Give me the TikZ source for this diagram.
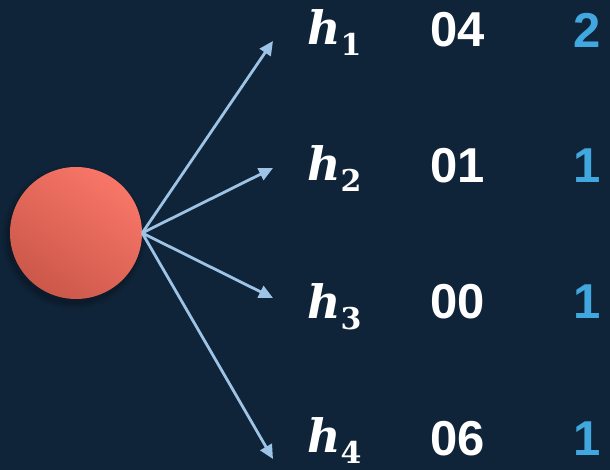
\documentclass[tikz,border=0pt]{standalone}
\usepackage{fontspec}
\setmainfont{Liberation Sans}
\newfontfamily\hfont{DejaVu Serif}
\usetikzlibrary{arrows.meta}
\definecolor{bg}{HTML}{0F2439}
\definecolor{arrowc}{HTML}{9DC3E6}
\definecolor{cntc}{HTML}{41A8DF}
\definecolor{ballhi}{HTML}{F87668}
\definecolor{balllo}{HTML}{CB584A}
\newcommand{\hsub}[1]{\raisebox{-11pt}{\fontsize{30}{36}\selectfont\bfseries\upshape #1}}
\tikzset{
  ball/.style={circle, minimum size=132pt, inner sep=0pt, shading=axis,
    top color=ballhi, bottom color=balllo, shading angle=-35},
  softshadow/.style={fill=black, opacity=0.06},
  link/.style={draw=arrowc, line width=2.8pt, -{Triangle[length=14pt,width=13pt]}},
  hlab/.style={text=white, inner sep=0pt, anchor=base west, font=\hfont\bfseries\itshape\fontsize{46}{52}\selectfont},
  numlab/.style={text=white, inner sep=0pt, font=\bfseries\fontsize{49}{56}\selectfont},
  cntlab/.style={text=cntc, inner sep=0pt, font=\bfseries\fontsize{49}{56}\selectfont},
}
\begin{document}
\begin{tikzpicture}[x=1pt,y=-1pt]
\fill[bg] (0,0) rectangle (610,470);
\useasboundingbox (0,0) rectangle (610,470);
\foreach \r in {72,70,68,67} {\fill[softshadow] (74,237) circle[radius=\r];}
\node[ball] (c) at (76,233) {};
\coordinate (t1) at (273,41);
\coordinate (t2) at (273,168);
\coordinate (t3) at (273,298);
\coordinate (t4) at (273,459);
\foreach \i in {1,2,3,4} {\draw[link] (c.east) -- (t\i);}
\node[hlab] (h1) at (307,45) {h\hsub{1}};
\node[hlab] (h2) at (307,181) {h\hsub{2}};
\node[hlab] (h3) at (307,318) {h\hsub{3}};
\node[hlab] (h4) at (307,452) {h\hsub{4}};
\node[numlab] (n1) at (458,30) {04};
\node[numlab] (n2) at (458,166) {01};
\node[numlab] (n3) at (458,302) {00};
\node[numlab] (n4) at (458,439) {06};
\node[cntlab] (k1) at (587,30) {2};
\node[cntlab] (k2) at (587,166) {1};
\node[cntlab] (k3) at (587,302) {1};
\node[cntlab] (k4) at (587,439) {1};
\end{tikzpicture}
\end{document}
